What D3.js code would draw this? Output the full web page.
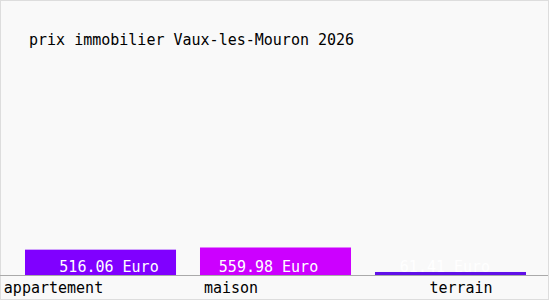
<!DOCTYPE html>
<html>
<head>
<meta charset="utf-8">
<script src="https://cdn.jsdelivr.net/npm/d3@7"></script>
<style>
    body { margin: 0; background: #fff; }
    text { font-family: "DejaVu Sans Mono", "Liberation Mono", monospace; }
</style>
</head>
<body>
<div id="chart"></div>
<script>
    var title = "prix immobilier Vaux-les-Mouron 2026";
    var categories = ["appartement", "maison", "terrain"];
    var values = [516.06, 559.98, 61.41];
    var valueLabels = ["516.06 Euro", "559.98 Euro", "61.41 Euro"];
    var barColors = ["#8000ff", "#cc00ff", "#6010e8"];

    // label nudges, the original renderer does not center them
    var catShift = [-47, -44.5, 10.5];
    var valShift = [8.5, -7, -5.5];

    var width = 550, height = 300;
    var baseY = 275;

    var svg = d3.select("#chart").append("svg")
        .attr("width", width)
        .attr("height", height);

    svg.append("rect")
        .attr("x", 0.5).attr("y", 0.5)
        .attr("width", width - 2).attr("height", height - 1)
        .style("fill", "#f9f9f9")
        .style("stroke", "#dddddd");

    svg.append("text")
        .attr("x", 29)
        .attr("y", 45)
        .style("font-size", "15px")
        .style("fill", "#000")
        .text(title);

    var x = d3.scaleBand()
        .domain(categories)
        .range([25, 526])
        .paddingInner(0.137)
        .paddingOuter(0);

    var y = d3.scaleLinear()
        .domain([0, 5600])
        .range([baseY, 0]);

    var bars = svg.append("g").attr("class", "bars");
    bars.selectAll("rect")
        .data(values)
        .enter().append("rect")
        .attr("x", function(d, i) { return x(categories[i]); })
        .attr("y", function(d) { return y(d); })
        .attr("width", x.bandwidth())
        .attr("height", function(d) { return baseY - y(d); })
        .style("fill", function(d, i) { return barColors[i]; });

    bars.selectAll("text")
        .data(valueLabels)
        .enter().append("text")
        .attr("x", function(d, i) { return x(categories[i]) + x.bandwidth() / 2 + valShift[i]; })
        .attr("y", 272)
        .attr("text-anchor", "middle")
        .style("font-size", "15px")
        .style("fill", "#fff")
        .text(function(d) { return d; });

    svg.append("line")
        .attr("x1", 0).attr("x2", width - 2)
        .attr("y1", baseY + 0.5).attr("y2", baseY + 0.5)
        .style("stroke", "#aaaaaa");

    svg.append("g").selectAll("text")
        .data(categories)
        .enter().append("text")
        .attr("x", function(d, i) { return x(d) + x.bandwidth() / 2 + catShift[i]; })
        .attr("y", 293)
        .attr("text-anchor", "middle")
        .style("font-size", "15px")
        .style("fill", "#000")
        .text(function(d) { return d; });
</script>
</body>
</html>
